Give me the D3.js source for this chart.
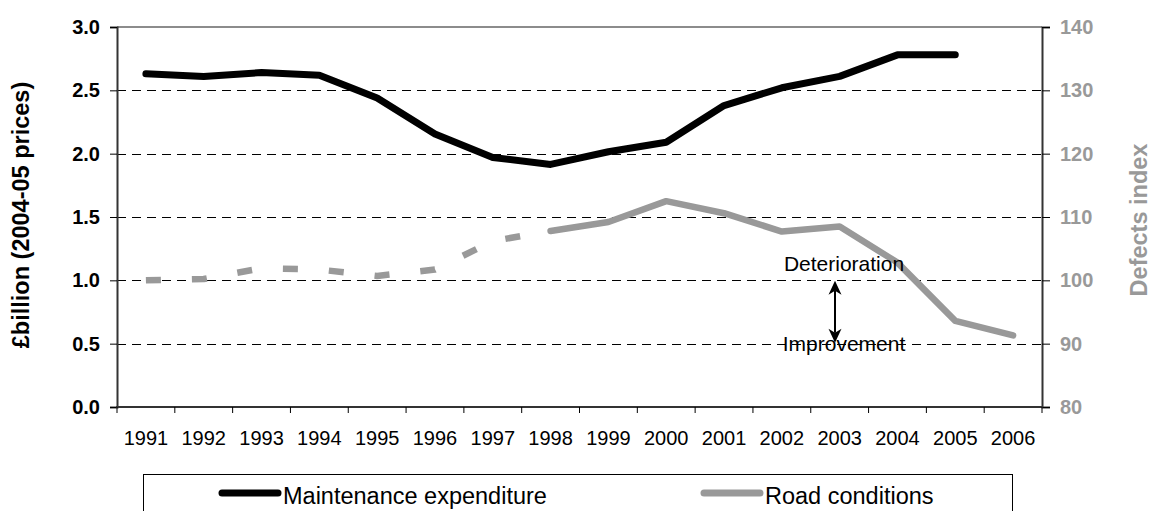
<!DOCTYPE html>
<html>
<head>
<meta charset="utf-8">
<script src="https://cdn.jsdelivr.net/npm/d3@7"></script>
<style>
  html, body { margin: 0; padding: 0; background: #fff; }
  svg { display: block; font-family: "Liberation Sans", Arial, sans-serif; }
</style>
</head>
<body>
<svg id="chart" width="1152" height="511"></svg>
<script>
// ---- data ----
const years = ["1991","1992","1993","1994","1995","1996","1997","1998","1999","2000","2001","2002","2003","2004","2005","2006"];
const maintenance = [2.63, 2.61, 2.64, 2.62, 2.44, 2.155, 1.97, 1.915, 2.015, 2.09, 2.38, 2.52, 2.61, 2.78, 2.78, null];
const roadConditions = [100.0, 100.2, 101.9, 101.7, 100.7, 101.7, 106.2, 107.8, 109.2, 112.5, 110.6, 107.7, 108.5, 102.8, 93.6, 91.3];
const estimatedThrough = "1998";
const leftTicks = [0, 0.5, 1.0, 1.5, 2.0, 2.5, 3.0];
const rightTicks = [80, 90, 100, 110, 120, 130, 140];
const leftTitle = "£billion (2004-05 prices)";
const rightTitle = "Defects index";
const seriesNames = ["Maintenance expenditure", "Road conditions"];
const annotations = ["Deterioration", "Improvement"];

// ---- layout ----
const svg = d3.select("#chart");
const L = 117, R = 1042, T = 27, B = 407;
const GRAY = "#999999";

const x = d3.scaleBand().domain(years).range([L, R]).padding(0);
const cx = d => x(d) + x.bandwidth() / 2;
const yL = d3.scaleLinear().domain([0, 3]).range([B, T]);
const yR = d3.scaleLinear().domain([80, 140]).range([B, T]);

// gridlines
svg.append("g").selectAll("line").data(leftTicks.filter(t => t > 0 && t < 3)).join("line")
  .attr("x1", L).attr("x2", R)
  .attr("y1", d => Math.round(yL(d)) + 0.5).attr("y2", d => Math.round(yL(d)) + 0.5)
  .attr("stroke", "#000").attr("stroke-width", 1).attr("stroke-dasharray", "9,6");

// plot border (top)
svg.append("line").attr("x1", L).attr("x2", R).attr("y1", T).attr("y2", T)
  .attr("stroke", "#8c8c8c").attr("stroke-width", 2);

// left axis
const gL = svg.append("g").attr("transform", `translate(${L},0)`)
  .call(d3.axisLeft(yL).tickValues(leftTicks).tickFormat(d3.format(".1f")).tickSize(7).tickPadding(10));
gL.select(".domain").attr("stroke", "#333").attr("stroke-width", 2);
gL.selectAll(".tick line").attr("stroke", "#000");
gL.selectAll(".tick text").attr("font-size", 20).attr("font-weight", "bold").attr("fill", "#000")
  .attr("font-family", "Liberation Sans, Arial, sans-serif");

// right axis
const gR = svg.append("g").attr("transform", `translate(${R},0)`)
  .call(d3.axisRight(yR).tickValues(rightTicks).tickFormat(d3.format("d")).tickSize(8).tickPadding(10));
gR.select(".domain").attr("stroke", "#333").attr("stroke-width", 2);
gR.selectAll(".tick line").attr("stroke", "#000");
gR.selectAll(".tick text").attr("font-size", 20).attr("font-weight", "bold").attr("fill", GRAY)
  .attr("font-family", "Liberation Sans, Arial, sans-serif");

// bottom axis
svg.append("line").attr("x1", L - 1).attr("x2", R + 1).attr("y1", B).attr("y2", B)
  .attr("stroke", "#333").attr("stroke-width", 2);
const boundaries = years.map(d => x(d)).concat([R]);
svg.append("g").selectAll("line").data(boundaries).join("line")
  .attr("x1", d => d).attr("x2", d => d).attr("y1", B).attr("y2", B + 6)
  .attr("stroke", "#000").attr("stroke-width", 1);
svg.append("g").selectAll("text").data(years).join("text")
  .attr("x", d => cx(d)).attr("y", 445).attr("text-anchor", "middle")
  .attr("font-size", 20).attr("fill", "#000").text(d => d);

// axis titles
svg.append("text").attr("transform", "translate(29,215) rotate(-90)")
  .attr("text-anchor", "middle").attr("font-size", 23.5).attr("font-weight", "bold")
  .attr("fill", "#000").text(leftTitle);
svg.append("text").attr("transform", "translate(1147,220) rotate(-90)")
  .attr("text-anchor", "middle").attr("font-size", 23.5).attr("font-weight", "bold")
  .attr("fill", GRAY).text(rightTitle);

// series
const mPts = years.map((d, i) => ({ year: d, v: maintenance[i] })).filter(p => p.v != null);
const lineL = d3.line().x(p => cx(p.year)).y(p => yL(p.v));
const lineR = d3.line().x(p => cx(p.year)).y(p => yR(p.v));

const cut = years.indexOf(estimatedThrough);
const rPts = years.map((d, i) => ({ year: d, v: roadConditions[i] }));
svg.append("path").datum(rPts.slice(0, cut + 1)).attr("d", lineR)
  .attr("fill", "none").attr("stroke", GRAY).attr("stroke-width", 6.5)
  .attr("stroke-dasharray", "15,31").attr("stroke-linejoin", "round");
svg.append("path").datum(rPts.slice(cut)).attr("d", lineR)
  .attr("fill", "none").attr("stroke", GRAY).attr("stroke-width", 6.5)
  .attr("stroke-linecap", "round").attr("stroke-linejoin", "round");

svg.append("path").datum(mPts).attr("d", lineL)
  .attr("fill", "none").attr("stroke", "#000").attr("stroke-width", 7)
  .attr("stroke-linecap", "round").attr("stroke-linejoin", "round");

// annotation
const ax = 835, ayTop = yR(100) + 0.5, ayBot = yR(90) - 1;
svg.append("line").attr("x1", ax).attr("x2", ax).attr("y1", ayTop + 10).attr("y2", ayBot - 10)
  .attr("stroke", "#000").attr("stroke-width", 2);
svg.append("path").attr("d", `M${ax},${ayTop} L${ax - 6.5},${ayTop + 14} L${ax},${ayTop + 10} L${ax + 6.5},${ayTop + 14} Z`)
  .attr("fill", "#000");
svg.append("path").attr("d", `M${ax},${ayBot} L${ax - 6.5},${ayBot - 14} L${ax},${ayBot - 10} L${ax + 6.5},${ayBot - 14} Z`)
  .attr("fill", "#000");
svg.append("text").attr("x", 844).attr("y", 271).attr("text-anchor", "middle")
  .attr("font-size", 21).attr("fill", "#000").text(annotations[0]);
svg.append("text").attr("x", 844).attr("y", 351).attr("text-anchor", "middle")
  .attr("font-size", 21).attr("fill", "#000").text(annotations[1]);

// legend
svg.append("rect").attr("x", 143.5).attr("y", 474.5).attr("width", 869).attr("height", 60)
  .attr("fill", "#fff").attr("stroke", "#000").attr("stroke-width", 1);
const legendItems = [
  { name: seriesNames[0], color: "#000", x0: 222 },
  { name: seriesNames[1], color: GRAY, x0: 704 }
];
const lg = svg.append("g").selectAll("g").data(legendItems).join("g");
lg.append("line").attr("x1", d => d.x0).attr("x2", d => d.x0 + 56).attr("y1", 493).attr("y2", 493)
  .attr("stroke", d => d.color).attr("stroke-width", 7).attr("stroke-linecap", "round");
lg.append("text").attr("x", d => d.x0 + 61).attr("y", 504).attr("font-size", 23.5)
  .attr("fill", "#000").text(d => d.name);
</script>
</body>
</html>
